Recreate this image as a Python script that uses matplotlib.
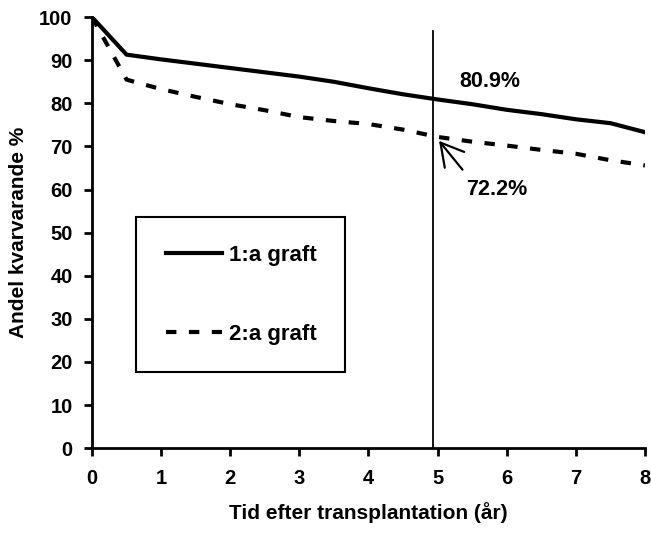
import matplotlib.pyplot as plt
from matplotlib.patches import Rectangle

plt.rcParams['font.family'] = ['Liberation Sans', 'DejaVu Sans']
plt.rcParams['font.weight'] = 'bold'

years = [0, 0.5, 1, 1.5, 2, 2.5, 3, 3.5, 4, 4.5, 5, 5.5, 6, 6.5, 7, 7.5, 8]
graft1 = [100, 91.3, 90.2, 89.2, 88.2, 87.2, 86.2, 85.0, 83.5, 82.1, 80.9,
          79.8, 78.5, 77.5, 76.3, 75.4, 73.3]
graft2 = [100, 85.5, 83.3, 81.5, 79.8, 78.4, 76.8, 75.9, 75.2, 73.9, 72.2,
          71.1, 70.2, 69.2, 68.3, 66.8, 65.6]
marker_year = 4.93
label1 = "80.9%"
label2 = "72.2%"

fig = plt.figure(figsize=(6.51, 5.36), dpi=100)
ax = fig.add_axes([0.1413, 0.164, 0.8495, 0.804])

ax.plot(years, graft1, color='black', lw=3, label='1:a graft', solid_joinstyle='round')
ax.plot(years, graft2, color='black', lw=3, ls=(0, (2.5, 3)), label='2:a graft')

ax.plot([marker_year, marker_year], [0, 96.7], color='black', lw=1.3)
ax.text(5.76, 85.1, label1, ha='center', va='center', fontsize=15.5, fontweight='bold')
ax.text(5.85, 59.9, label2, ha='center', va='center', fontsize=15.5, fontweight='bold')
ax.annotate('', xy=(5.02, 71.3), xytext=(5.36, 64.6),
            arrowprops=dict(arrowstyle='->,head_length=0.8,head_width=0.45',
                            mutation_scale=20, color='black', lw=1.6,
                            shrinkA=0, shrinkB=0))

ax.set_xlim(0, 8)
ax.set_ylim(0, 100)
ax.set_xticks(range(0, 9))
ax.set_yticks(range(0, 101, 10))
ax.spines['top'].set_visible(False)
ax.spines['right'].set_visible(False)
ax.spines['left'].set_linewidth(2)
ax.spines['bottom'].set_linewidth(2)
ax.tick_params(width=2, length=6, labelsize=14.5, pad=8)
ax.tick_params(axis='x', pad=9)
for t in ax.get_xticklabels() + ax.get_yticklabels():
    t.set_fontweight('bold')

ax.set_xlabel('Tid efter transplantation (år)', fontsize=15, fontweight='bold', labelpad=10)
ax.set_ylabel('Andel kvarvarande %', fontsize=15, fontweight='bold', labelpad=8)

# legend box
ax.add_patch(Rectangle((0.08, 0.176), 0.377, 0.36, transform=ax.transAxes,
                       fill=False, edgecolor='black', lw=1.5, zorder=3))
ax.legend(loc='center', bbox_to_anchor=(0.27, 0.356), frameon=False,
          handlelength=2.5, handletextpad=0.3, labelspacing=2.6,
          prop={'weight': 'bold', 'size': 16})

fig.savefig('out.png', dpi=100)
